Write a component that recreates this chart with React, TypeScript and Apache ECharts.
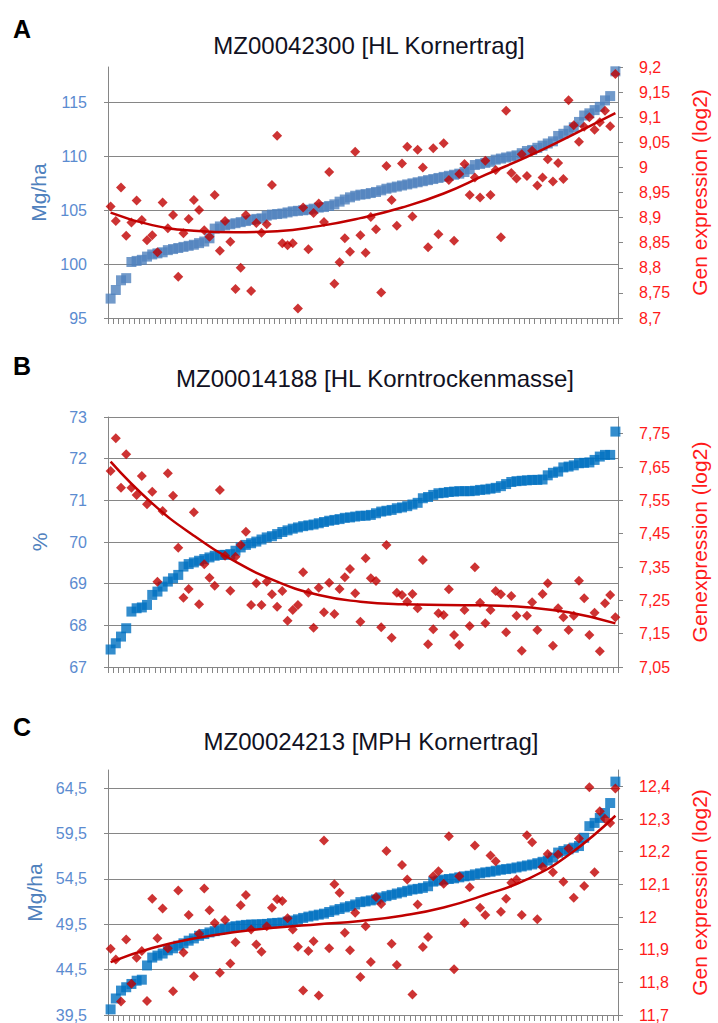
import React, { useEffect, useRef } from 'react';
import * as echarts from 'echarts';

const FONT = '"Liberation Sans", Arial, sans-serif';

const categories = Array.from({ length: 98 }, (_, i) => String(i + 1));

const titles = ['MZ00042300 [HL Kornertrag]', 'MZ00014188 [HL Korntrockenmasse]', 'MZ00024213 [MPH Kornertrag]'];
const letters = ['A', 'B', 'C'];
const leftNames = ['Mg/ha', '%', 'Mg/ha'];
const rightNames = ['Gen expression (log2)', 'Genexpression (log2)', 'Gen expression (log2)'];

// Panel A
const blueA = [96.8, 97.6, 98.5, 98.7, 100.2, 100.3, 100.4, 100.7, 100.9, 101.0,
  101.1, 101.3, 101.4, 101.5, 101.6, 101.7, 101.8, 101.95, 102.1, 102.4,
  103.3, 103.5, 103.6, 103.7, 103.8, 103.9, 104.0, 104.1, 104.2, 104.25,
  104.5, 104.6, 104.65, 104.7, 104.8, 104.9, 104.95, 105.0, 105.05, 105.15,
  105.25, 105.3, 105.4, 105.55, 105.8, 106.0, 106.2, 106.35, 106.45, 106.5,
  106.6, 106.7, 106.85, 107.0, 107.1, 107.2, 107.3, 107.4, 107.5, 107.6,
  107.7, 107.8, 107.9, 108.0, 108.1, 108.2, 108.3, 108.4, 108.55, 108.8,
  109.2, 109.3, 109.4, 109.5, 109.7, 109.8, 109.9, 110.0, 110.1, 110.3,
  110.5, 110.6, 110.8, 111.0, 111.2, 111.4, 111.9, 112.1, 112.4, 112.7,
  113.2, 113.8, 114.0, 114.3, 114.6, 115.2, 115.6, 117.9];
const redA = [8.922, 8.893, 8.960, 8.864, 8.890, 8.934, 8.895, 8.855, 8.865, 8.831,
  8.930, 8.879, 8.905, 8.782, 8.869, 8.897, 8.935, 8.915, 8.875, 8.862,
  8.945, 8.834, 8.893, 8.852, 8.758, 8.800, 8.905, 8.754, 8.889, 8.870,
  8.887, 8.965, 9.063, 8.849, 8.845, 8.849, 8.719, 8.920, 8.837, 8.909,
  8.928, 8.891, 8.991, 8.768, 8.811, 8.859, 8.832, 9.031,
  8.865, 8.830, 8.901, 8.877, 8.751, 9.003, 8.935, 8.884, 9.008, 9.041,
  8.902, 9.035, 9.000, 8.841, 9.038, 8.867, 9.048, 8.975, 8.854, 8.987,
  9.007, 8.945, 8.980, 8.940, 9.013, 8.945, 8.995, 8.861, 9.113, 8.989,
  8.978, 9.026, 8.983, 9.033, 8.964, 8.980, 9.016, 8.972, 9.009, 8.977,
  9.134, 9.084, 9.051, 9.081, 9.100, 9.075, 9.090, 9.113, 9.082, 9.186];
const trendA = [[0, 8.910], [8, 8.885], [16, 8.874], [24, 8.871], [32, 8.873], [40, 8.883],
  [48, 8.899], [56, 8.920], [64, 8.948], [72, 8.985], [80, 9.021], [88, 9.061], [97, 9.108]];

// Panel B
const blueB = [67.42, 67.57, 67.73, 67.93, 68.33, 68.41, 68.43, 68.49, 68.73, 68.81,
  68.93, 69.05, 69.13, 69.21, 69.41, 69.47, 69.51, 69.55, 69.59, 69.63,
  69.67, 69.69, 69.69, 69.71, 69.79, 69.87, 69.93, 69.97, 70.01, 70.06,
  70.11, 70.14, 70.19, 70.24, 70.28, 70.32, 70.35, 70.38, 70.40, 70.42,
  70.45, 70.48, 70.51, 70.53, 70.55, 70.58, 70.59, 70.61, 70.63, 70.63,
  70.65, 70.69, 70.73, 70.75, 70.77, 70.81, 70.83, 70.86, 70.90, 70.94,
  71.05, 71.08, 71.13, 71.17, 71.18, 71.20, 71.21, 71.22, 71.22, 71.22,
  71.23, 71.25, 71.26, 71.28, 71.30, 71.34, 71.39, 71.44, 71.46, 71.47,
  71.48, 71.49, 71.49, 71.50, 71.60, 71.66, 71.69, 71.79, 71.81, 71.84,
  71.89, 71.90, 71.91, 71.97, 72.05, 72.09, 72.09, 72.65];
const redB = [7.638, 7.736, 7.588, 7.688, 7.588, 7.566, 7.623, 7.538, 7.576, 7.306,
  7.518, 7.631, 7.564, 7.408, 7.258, 7.284, 7.514, 7.238, 7.358, 7.318,
  7.294, 7.581, 7.384, 7.279, 7.381, 7.416, 7.456, 7.236, 7.301, 7.236,
  7.306, 7.268, 7.231, 7.278, 7.189, 7.221, 7.236, 7.334, 7.273, 7.168,
  7.288, 7.214, 7.303, 7.209, 7.284, 7.319, 7.344, 7.271, 7.186,
  7.376, 7.316, 7.308, 7.169, 7.416, 7.138, 7.273, 7.266, 7.246, 7.269,
  7.226, 7.371, 7.118, 7.163, 7.211, 7.206, 7.283, 7.146, 7.116, 7.221,
  7.173, 7.349, 7.243, 7.181, 7.221, 7.278, 7.268, 7.154, 7.263, 7.204,
  7.099, 7.204, 7.244, 7.161, 7.269, 7.301, 7.114, 7.226, 7.199, 7.161,
  7.204, 7.309, 7.256, 7.146, 7.213, 7.097, 7.241, 7.266, 7.199];
const trendB = [[0, 7.666], [8, 7.541], [16, 7.444], [24, 7.366], [32, 7.306], [40, 7.266],
  [48, 7.246], [56, 7.238], [64, 7.236], [72, 7.235], [80, 7.229], [88, 7.214], [97, 7.181]];

// Panel C
const blueC = [40.12, 41.32, 42.19, 42.56, 42.92, 43.28, 43.39, 44.96, 45.83, 46.05,
  46.27, 46.63, 46.85, 47.14, 47.40, 47.69, 47.94, 48.23, 48.42, 48.60,
  48.74, 48.89, 49.03, 49.18, 49.29, 49.36, 49.43, 49.47, 49.47, 49.51,
  49.54, 49.62, 49.65, 49.69, 49.80, 49.91, 50.05, 50.20, 50.34, 50.45,
  50.56, 50.67, 50.85, 51.03, 51.18, 51.36, 51.50, 51.68, 51.94, 52.02,
  52.13, 52.24, 52.45, 52.60, 52.74, 52.89, 53.03, 53.18, 53.33, 53.40,
  53.51, 53.69, 54.20, 54.31, 54.42, 54.49, 54.56, 54.67, 54.78, 54.85,
  55.00, 55.11, 55.22, 55.29, 55.40, 55.51, 55.58, 55.65, 55.76, 55.87,
  55.98, 56.09, 56.23, 56.38, 56.52, 56.85, 57.40, 57.58, 57.76, 57.94,
  58.12, 59.03, 60.31, 60.67, 61.22, 61.76, 62.86, 65.22];
const redC = [11.903, 11.870, 11.741, 11.931, 11.796, 11.875, 11.896, 11.743, 12.056, 11.935,
  12.026, 11.904, 11.773, 12.081, 11.891, 12.006, 11.819, 11.949, 12.087, 12.021,
  11.982, 11.829, 11.991, 11.858, 11.923, 12.036, 12.067, 11.962, 11.916, 11.894,
  11.972, 12.028, 12.054, 12.049, 11.996, 11.962, 11.909, 11.775, 11.896, 11.926,
  11.760, 12.234, 11.904, 12.100, 12.074, 11.952, 11.898, 12.013, 11.816,
  11.972, 11.862, 12.061, 12.040, 12.202, 11.918, 11.853, 12.159, 12.115, 11.763,
  12.038, 11.908, 11.939, 12.125, 12.140, 12.102, 12.247, 11.840, 12.125, 11.982,
  12.091, 12.219, 12.028, 12.006, 12.188, 12.171, 12.016, 12.056, 12.105, 12.115,
  12.006, 12.250, 12.229, 11.993, 12.153, 12.193, 12.137, 12.191, 12.108, 12.210,
  12.059, 12.240, 12.095, 12.397, 12.137, 12.324, 12.301, 12.288, 12.393];
const trendC = [[0, 11.862], [8, 11.905], [16, 11.934], [24, 11.954], [32, 11.968], [40, 11.978],
  [48, 11.988], [56, 12.004], [64, 12.029], [72, 12.068], [80, 12.115], [88, 12.190], [97, 12.31]];

// Axis ranges
const leftRanges = [[95, 118.3, 5], [67, 73, 1], [39.5, 66.5, 5]];
const rightRanges = [[8.7, 9.2, 0.05], [7.05, 7.8, 0.1], [11.7, 12.45, 0.1]];

const blues = [blueA, blueB, blueC];
const reds = [redA, redB, redC];
const trends = [trendA, trendB, trendC];

const blueColors = ['#4F81BD', '#0070C0', '#0070C0'];
const RED = '#C00000';
const GRID_GRAY = '#868686';
const LABEL_BLUE = '#5B8BD0';
const LABEL_RED = '#FF1A1A';

const grids = [
  { left: 108, top: 67, width: 523, height: 251 },
  { left: 108, top: 417, width: 523, height: 250 },
  { left: 108, top: 770, width: 524, height: 247 },
];
const titleY = [45, 378, 741];
const titleX = [369, 375, 371];
const letterY = [29, 366, 727];

function comma(v: number) {
  const r = Math.round(v * 1000) / 1000;
  return String(r).replace('.', ',');
}

export default function App() {
  const ref = useRef<HTMLDivElement>(null);
  useEffect(() => {
    if (!ref.current) return;
    const chart = echarts.init(ref.current, undefined, { renderer: 'svg' });
    const xAxis: any[] = [];
    const yAxis: any[] = [];
    const series: any[] = [];
    const graphic: any[] = [];
    for (let k = 0; k < 3; k++) {
      const [lmin, lmax, lint] = leftRanges[k];
      const [rmin, rmax, rint] = rightRanges[k];
      const leftMaxIsTick = k === 1;
      const rightMaxIsTick = k === 0;
      xAxis.push({
        type: 'category', gridIndex: k, data: categories, boundaryGap: true,
        axisLine: { show: true, lineStyle: { color: GRID_GRAY, width: 1 } },
        axisTick: { show: true, interval: 0, length: 6, lineStyle: { color: GRID_GRAY } },
        axisLabel: { show: false },
        splitLine: { show: false },
      });
      yAxis.push({
        type: 'value', gridIndex: k, position: 'left', min: lmin, max: lmax, interval: lint,
        axisLine: { show: true, lineStyle: { color: GRID_GRAY, width: 1 } },
        axisTick: { show: true, length: 4, lineStyle: { color: GRID_GRAY } },
        axisLabel: {
          color: LABEL_BLUE, fontSize: 16, fontFamily: FONT, margin: 21,
          showMaxLabel: leftMaxIsTick, formatter: comma,
        },
        splitLine: { show: true, showMaxLine: leftMaxIsTick, lineStyle: { color: GRID_GRAY, width: 1 } },
        name: leftNames[k], nameLocation: 'middle', nameGap: 58,
        nameTextStyle: { color: '#4F81BD', fontSize: 21, fontFamily: FONT },
      });
      yAxis.push({
        type: 'value', gridIndex: k, position: 'right', min: rmin, max: rmax, interval: rint,
        axisLine: { show: true, lineStyle: { color: GRID_GRAY, width: 1 } },
        axisTick: { show: true, length: 5, lineStyle: { color: GRID_GRAY } },
        axisLabel: {
          color: LABEL_RED, fontSize: 16, fontFamily: FONT, margin: 21,
          showMaxLabel: rightMaxIsTick, formatter: comma,
        },
        splitLine: { show: false },
        name: rightNames[k], nameLocation: 'middle', nameGap: 71,
        nameTextStyle: { color: LABEL_RED, fontSize: 21, fontFamily: FONT },
      });
      series.push({
        type: 'scatter', xAxisIndex: k, yAxisIndex: 2 * k, data: blues[k],
        symbol: 'rect', symbolSize: 10, itemStyle: { color: blueColors[k] }, z: 2,
      });
      series.push({
        type: 'scatter', xAxisIndex: k, yAxisIndex: 2 * k + 1, data: reds[k],
        symbol: 'diamond', symbolSize: 10, itemStyle: { color: RED }, z: 3,
      });
      series.push({
        type: 'line', xAxisIndex: k, yAxisIndex: 2 * k + 1, data: trends[k],
        smooth: 0.5, showSymbol: false, symbol: 'none',
        lineStyle: { color: RED, width: 2.5 }, z: 4,
      });
      graphic.push({
        type: 'text', x: titleX[k], y: titleY[k],
        style: { text: titles[k], font: `24px ${FONT}`, fill: '#111122', align: 'center', verticalAlign: 'middle' },
      });
      graphic.push({
        type: 'text', x: 13, y: letterY[k],
        style: { text: letters[k], font: `bold 25px ${FONT}`, fill: '#000', align: 'left', verticalAlign: 'middle' },
      });
    }
    chart.setOption({
      animation: false,
      backgroundColor: '#ffffff',
      textStyle: { fontFamily: FONT },
      grid: grids.map((g) => ({ ...g, containLabel: false })),
      xAxis, yAxis, series, graphic,
    });
    return () => chart.dispose();
  }, []);
  return <div ref={ref} style={{ position: 'absolute', left: 0, top: 0, width: 718, height: 1023 }} />;
}
